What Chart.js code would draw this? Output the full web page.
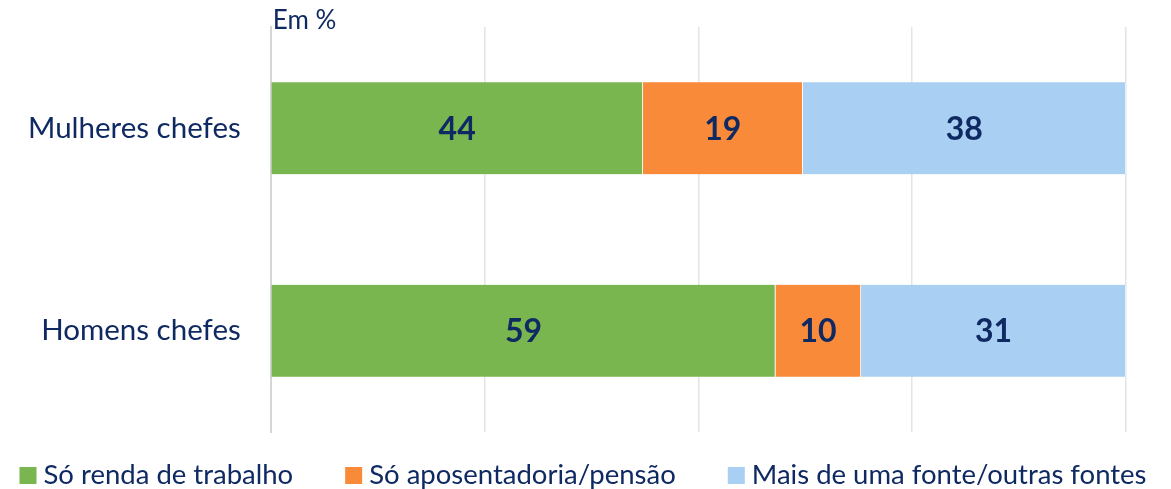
<!DOCTYPE html>
<html>
<head>
<meta charset="utf-8">
<script src="https://cdn.jsdelivr.net/npm/chart.js@4.4.1/dist/chart.umd.min.js"></script>
<style>
  html, body { margin: 0; padding: 0; background: #ffffff; }
  #wrap { width: 1171px; height: 489px; position: relative; }
</style>
</head>
<body>
<div id="wrap"><canvas id="c" width="1171" height="489"></canvas></div>
<script>
const categories = ["Mulheres chefes", "Homens chefes"];
const seriesNames = ["Só renda de trabalho", "Só aposentadoria/pensão", "Mais de uma fonte/outras fontes"];
const soRendaTrabalho = [43.5, 59];
const soAposentadoria = [18.7, 10];
const maisDeUmaFonte = [37.8, 31];
const xTicks = [0, 25, 50, 75, 100];
const unitLabel = "Em %";

const NAVY = "#0f2a62";
const FONT = "Lato, 'Open Sans', sans-serif";

const valueLabels = {
  id: "valueLabels",
  afterDatasetsDraw(chart) {
    const ctx = chart.ctx;
    ctx.save();
    ctx.font = "bold 32px " + FONT;
    ctx.fillStyle = NAVY;
    ctx.textAlign = "center";
    ctx.textBaseline = "middle";
    chart.data.datasets.forEach((ds, i) => {
      const meta = chart.getDatasetMeta(i);
      meta.data.forEach((bar, j) => {
        const x = (bar.x + bar.base) / 2;
        ctx.fillText(String(Math.round(ds.data[j])), x, bar.y + 1);
      });
    });
    ctx.restore();
  }
};

const unitText = {
  id: "unitText",
  afterDraw(chart) {
    const ctx = chart.ctx;
    ctx.save();
    ctx.font = "26px " + FONT;
    ctx.fillStyle = NAVY;
    ctx.textAlign = "left";
    ctx.textBaseline = "alphabetic";
    ctx.fillText(unitLabel, chart.chartArea.left + 2, 29);
    ctx.restore();
  }
};

const bottomLegend = {
  id: "bottomLegend",
  afterDraw(chart) {
    const ctx = chart.ctx;
    ctx.save();
    ctx.font = "27.5px " + FONT;
    const box = 17, gapText = 7, gapItem = 52;
    const items = chart.data.datasets.map(ds => ({ text: ds.label, color: ds.backgroundColor, w: ctx.measureText(ds.label).width }));
    const total = items.reduce((s, it) => s + box + gapText + it.w, 0) + gapItem * (items.length - 1);
    let x = 583 - total / 2;
    const cy = 475;
    ctx.textAlign = "left";
    ctx.textBaseline = "middle";
    items.forEach(it => {
      ctx.fillStyle = it.color;
      ctx.fillRect(x, cy - 8, box, box);
      ctx.fillStyle = NAVY;
      ctx.fillText(it.text, x + box + gapText, cy);
      x += box + gapText + it.w + gapItem;
    });
    ctx.restore();
  }
};

new Chart(document.getElementById("c"), {
  type: "bar",
  data: {
    labels: categories,
    datasets: [
      { label: seriesNames[0], data: soRendaTrabalho, backgroundColor: "#7ab650" },
      { label: seriesNames[1], data: soAposentadoria, backgroundColor: "#f98a3a" },
      { label: seriesNames[2], data: maisDeUmaFonte, backgroundColor: "#a9cff2" }
    ].map(d => Object.assign(d, { borderColor: "#ffffff", borderWidth: { left: 0, right: 1, top: 0, bottom: 0 }, borderSkipped: false, barThickness: 92 }))
  },
  options: {
    indexAxis: "y",
    responsive: false,
    animation: false,
    layout: { padding: { top: 27, right: 45, left: -2, bottom: 57 } },
    scales: {
      x: {
        stacked: true,
        min: 0, max: 100,
        afterBuildTicks(axis) { axis.ticks = xTicks.map(v => ({ value: v })); },
        ticks: { display: false },
        grid: { color: "#e4e4e4", lineWidth: 1.5, drawTicks: false },
        border: { display: false }
      },
      y: {
        stacked: true,
        grid: { display: false, drawTicks: false },
        border: { display: true, color: "#d6d6d6", width: 2 },
        ticks: { color: NAVY, font: { family: FONT, size: 29.5 }, padding: 30 },
        afterFit(scale) { scale.paddingTop = 0; scale.paddingBottom = 0; }
      }
    },
    plugins: {
      legend: { display: false },
      tooltip: { enabled: false }
    }
  },
  plugins: [valueLabels, unitText, bottomLegend]
});
</script>
</body>
</html>
